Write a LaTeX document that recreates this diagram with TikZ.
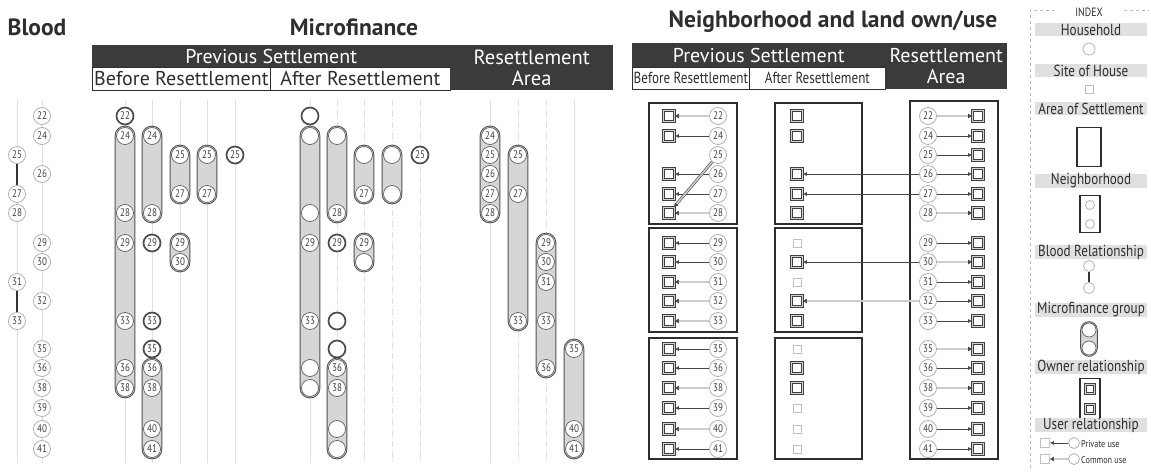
\documentclass[tikz,border=0pt]{standalone}
\usepackage{fontspec}
\setmainfont{PT Sans}
\newfontfamily\narrowsf[FakeStretch=0.82]{PT Sans}
\usetikzlibrary{positioning,fit,arrows.meta,backgrounds}

\definecolor{hdr}{HTML}{3B3B3B}
\definecolor{ink}{HTML}{2E2E2E}
\definecolor{pillgray}{HTML}{D6D6D6}
\definecolor{bandgray}{HTML}{E0E0E0}

% row of each household (pixels from the top)
\newcommand{\defrow}[2]{\expandafter\def\csname hrow#1\endcsname{#2}}
\newcommand{\hy}[1]{\csname hrow#1\endcsname}
\defrow{22}{116}\defrow{24}{136}\defrow{25}{155}\defrow{26}{174}
\defrow{27}{194}\defrow{28}{213}\defrow{29}{243}\defrow{30}{262}
\defrow{31}{282}\defrow{32}{301}\defrow{33}{321}\defrow{35}{349}
\defrow{36}{368}\defrow{38}{388}\defrow{39}{408}\defrow{40}{429}
\defrow{41}{449}

\begin{document}
\begin{tikzpicture}[x=1pt, y=-1pt,
        title/.style={font=\bfseries\fontsize{23.5}{24}\selectfont, text=ink},
        darkbar/.style={fill=hdr, text=white, inner sep=0pt, align=center,
            font=\fontsize{20}{21}\selectfont},
        resbar/.style={darkbar, font=\fontsize{20.5}{21.5}\selectfont},
        subbox/.style={draw=ink, fill=white, line width=0.8pt, inner sep=0pt,
            text=ink, font=\fontsize{20}{20}\selectfont},
        nsubbox/.style={subbox, font=\narrowsf\fontsize{16}{16}\selectfont},
        hh/.style={circle, draw=gray!75!black, fill=white, line width=0.7pt,
            minimum size=17pt, inner sep=0pt, text=gray!50!black,
            font=\narrowsf\fontsize{11}{11}\selectfont},
        hhs/.style={hh, line width=1.7pt, draw=gray!60!black},
        hl/.style={hh, draw=gray!60, line width=0.8pt},
        pill/.style={draw=gray!65!black, line width=0.9pt, fill=pillgray,
            rounded corners=9.5pt, inner sep=1pt},
        guide/.style={draw=gray!25, line width=0.7pt},
        guided/.style={guide, dash pattern=on 6pt off 2pt on 1pt off 2pt},
        kin/.style={draw=gray!40!black, line width=1.1pt},
        site/.style={rectangle, draw=gray!50!black, line width=0.7pt, double=gray!35,
            double distance=1.5pt, fill=white, minimum size=11pt, inner sep=0pt},
        sitesm/.style={rectangle, draw=gray!50, fill=white, line width=0.7pt,
            minimum size=8pt, inner sep=0pt},
        area/.style={draw=ink, line width=1.8pt},
        privuse/.style={-{Latex[length=4pt, width=4pt]}, draw=gray!55!black, line width=0.7pt},
        comuse/.style={-{Latex[length=4pt, width=5pt]}, draw=gray!55!black,
            double=gray!40, double distance=1.6pt, line width=0.6pt},
        band/.style={fill=bandgray, text=ink, minimum width=112pt, minimum height=13pt,
            inner sep=0pt, font=\narrowsf\fontsize{16}{16}\selectfont},
    ]
    \useasboundingbox (0,0) rectangle (1151,473);

    % Titles
    \node[title] (tblood) at (37,27) {Blood};
    \node[title] (tmicro) at (354,27) {Microfinance};
    \node[title] (tneigh) at (833,22) {Neighborhood and land own/use};

    % Microfinance headers
    \node[darkbar, anchor=north west, minimum width=358pt, minimum height=22pt] (mfprev) at (92,45) {Previous Settlement};
    \node[subbox, anchor=north west, minimum width=178pt, minimum height=23pt] (mfbef) at (92,67) {Before Resettlement};
    \node[subbox, anchor=north west, minimum width=180pt, minimum height=23pt] (mfaft) at (270,67) {After Resettlement};
    \node[resbar, anchor=north west, minimum width=163pt, minimum height=45pt] (mfres) at (450,45) {Resettlement\\Area};

    % Neighborhood headers
    \node[darkbar, anchor=north west, minimum width=253pt, minimum height=24pt] (nbprev) at (632,43) {Previous Settlement};
    \node[nsubbox, anchor=north west, minimum width=117pt, minimum height=22pt] (nbbef) at (632,67) {Before Resettlement};
    \node[nsubbox, anchor=north west, minimum width=136pt, minimum height=22pt] (nbaft) at (749,67) {After Resettlement};
    \node[darkbar, anchor=north west, minimum width=122pt, minimum height=46pt] (nbres) at (885,43) {Resettlement\\Area};

    % Blood
    \foreach \h in {25,27,28,31,33}
        \node[hl] (bl-\h) at (17,{\hy{\h}}) {\h};
    \foreach \h in {22,24,26,29,30,32,35,36,38,39,40,41}
        \node[hl] (bl-\h) at (42,{\hy{\h}}) {\h};
    \draw[kin] (bl-25) -- (bl-27);
    \draw[kin] (bl-31) -- (bl-33);

    % Microfinance, before resettlement
    \node[hhs] (mb1-22) at (125,{\hy{22}}) {22};
    \foreach \h in {24,28,29,33,36,38}
        \node[hh] (mb1-\h) at (125,{\hy{\h}}) {\h};
    \foreach \h in {24,28,36,38,40,41}
        \node[hh] (mb2-\h) at (152,{\hy{\h}}) {\h};
    \foreach \h in {29,33,35}
        \node[hhs] (mb2-\h) at (152,{\hy{\h}}) {\h};
    \foreach \h in {25,27,29,30}
        \node[hh] (mb3-\h) at (180,{\hy{\h}}) {\h};
    \foreach \h in {25,27}
        \node[hh] (mb4-\h) at (207,{\hy{\h}}) {\h};
    \node[hhs] (mb5-25) at (235,{\hy{25}}) {25};

    % Microfinance, after resettlement
    \node[hhs] (ma1-22) at (310,{\hy{22}}) {};
    \foreach \h/\t in {24/{},28/{},29/29,33/33,36/{},38/{}}
        \node[hh] (ma1-\h) at (310,{\hy{\h}}) {\t};
    \foreach \h/\t in {24/{},28/28,36/36,38/38,40/{},41/{}}
        \node[hh] (ma2-\h) at (337,{\hy{\h}}) {\t};
    \foreach \h/\t in {29/29,33/{},35/{}}
        \node[hhs] (ma2-\h) at (337,{\hy{\h}}) {\t};
    \foreach \h/\t in {25/{},27/27,29/29,30/{}}
        \node[hh] (ma3-\h) at (364,{\hy{\h}}) {\t};
    \foreach \h in {25,27}
        \node[hh] (ma4-\h) at (392,{\hy{\h}}) {};
    \node[hhs] (ma5-25) at (420,{\hy{25}}) {25};

    % Microfinance, resettlement area
    \foreach \h in {24,25,26,27,28}
        \node[hh] (mr1-\h) at (490,{\hy{\h}}) {\h};
    \foreach \h in {25,27,33}
        \node[hh] (mr2-\h) at (518,{\hy{\h}}) {\h};
    \foreach \h in {29,30,31,33,36}
        \node[hh] (mr3-\h) at (546,{\hy{\h}}) {\h};
    \foreach \h in {35,40,41}
        \node[hh] (mr4-\h) at (574,{\hy{\h}}) {\h};

    \begin{scope}[on background layer]
        \foreach \x in {17,42,125,152,180,207,235,310,490,574}
            \draw[guide] (\x,100) -- (\x,463);
        \foreach \x in {337,364,392,420,518,546}
            \draw[guided] (\x,100) -- (\x,463);
        \node[pill, fit=(mb1-24)(mb1-38)] (pb1) {};
        \node[pill, fit=(mb2-24)(mb2-28)] (pb2a) {};
        \node[pill, fit=(mb2-36)(mb2-41)] (pb2b) {};
        \node[pill, fit=(mb3-25)(mb3-27)] (pb3a) {};
        \node[pill, fit=(mb3-29)(mb3-30)] (pb3b) {};
        \node[pill, fit=(mb4-25)(mb4-27)] (pb4) {};
        \node[pill, fit=(ma1-24)(ma1-38)] (pa1) {};
        \node[pill, fit=(ma2-24)(ma2-28)] (pa2a) {};
        \node[pill, fit=(ma2-36)(ma2-41)] (pa2b) {};
        \node[pill, fit=(ma3-25)(ma3-27)] (pa3a) {};
        \node[pill, fit=(ma3-29)(ma3-30)] (pa3b) {};
        \node[pill, fit=(ma4-25)(ma4-27)] (pa4) {};
        \node[pill, fit=(mr1-24)(mr1-28)] (pr1) {};
        \node[pill, fit=(mr2-25)(mr2-33)] (pr2) {};
        \node[pill, fit=(mr3-29)(mr3-36)] (pr3) {};
        \node[pill, fit=(mr4-35)(mr4-41)] (pr4) {};
    \end{scope}

    % Neighborhood, before resettlement
    \draw[area] (649,103) rectangle (737,224);
    \draw[area] (649,228) rectangle (737,332);
    \draw[area] (649,338) rectangle (737,459);
    \foreach \h/\u in {22/comuse,24/privuse,26/privuse,27/privuse,28/comuse,
            29/privuse,30/privuse,31/comuse,32/comuse,33/comuse,
            35/privuse,36/privuse,38/comuse,39/privuse,40/comuse,41/privuse} {
        \node[site] (nbs-\h) at (669,{\hy{\h}}) {};
        \node[hl] (nbc-\h) at (718,{\hy{\h}}) {\h};
        \draw[\u] (nbc-\h) -- (nbs-\h);
    }
    \node[hl] (nbc-25) at (718,{\hy{25}}) {25};
    \draw[comuse] (nbc-25) -- (nbs-28);

    % Neighborhood, after resettlement
    \draw[area] (775,103) rectangle (862,224);
    \draw[area] (775,228) rectangle (862,332);
    \draw[area] (775,338) rectangle (862,459);
    \foreach \h in {22,24,26,27,28,30,32,33,36,38}
        \node[site] (nas-\h) at (797,{\hy{\h}}) {};
    \foreach \h in {29,31,35,39,40,41}
        \node[sitesm] (nas-\h) at (797,{\hy{\h}}) {};

    % Neighborhood, resettlement area
    \draw[area] (910,101) rectangle (998,459);
    \foreach \h/\u in {22/comuse,24/privuse,25/privuse,26/privuse,27/privuse,28/comuse,
            29/privuse,30/comuse,31/privuse,32/privuse,33/privuse,
            35/comuse,36/privuse,38/comuse,39/privuse,40/privuse,41/privuse} {
        \node[site] (nrs-\h) at (978,{\hy{\h}}) {};
        \node[hl] (nrc-\h) at (928,{\hy{\h}}) {\h};
        \draw[\u] (nrc-\h) -- (nrs-\h);
    }
    \draw[privuse] (nrc-26) -- (nas-26);
    \draw[privuse] (nrc-27) -- (nas-27);
    \draw[privuse] (nrc-30) -- (nas-30);
    \draw[comuse] (nrc-32) -- (nas-32);

    % Index
    \draw[gray!55, dashed, line width=0.6pt] (1030,468) -- (1030,10) -- (1149,10);
    \node[fill=white, inner xsep=18pt, inner ysep=1pt, text=ink,
        font=\narrowsf\fontsize{12}{12}\selectfont] (idx) at (1089,12) {INDEX};
    \node[band] (lhouse) at (1091,30) {Household};
    \node[hl, minimum size=12pt] (ihouse) at (1089,49) {};
    \node[band] (lsite) at (1091,71) {Site of House};
    \node[sitesm] (isite) at (1089,89) {};
    \node[band] (larea) at (1091,109) {Area of Settlement};
    \node[draw=ink, line width=1.8pt, minimum width=24pt, minimum height=39pt] (iarea) at (1089,147) {};
    \node[band] (lnbh) at (1091,181) {Neighborhood};
    \node[draw=ink, line width=1.8pt, minimum width=20pt, minimum height=37pt] (inbh) at (1090,214) {};
    \node[hl, minimum size=9pt] (inbhA) at (1090,205) {};
    \node[hl, minimum size=9pt] (inbhB) at (1090,224) {};
    \node[band] (lblood) at (1091,252) {Blood Relationship};
    \node[hl, minimum size=11pt] (iblA) at (1089,266) {};
    \node[hl, minimum size=11pt] (iblB) at (1089,288) {};
    \draw[kin] (iblA) -- (iblB);
    \node[band] (lmicro) at (1091,310) {Microfinance group};
    \node[hh, minimum size=14pt] (imfA) at (1089,330) {};
    \node[hh, minimum size=14pt] (imfB) at (1089,348) {};
    \begin{scope}[on background layer]
        \node[pill, rounded corners=8.5pt, fit=(imfA)(imfB)] (imf) {};
    \end{scope}
    \node[band] (lowner) at (1091,367) {Owner relationship};
    \node[draw=ink, line width=1.4pt, minimum width=20pt, minimum height=41pt] (iown) at (1090,399) {};
    \node[site, minimum size=9pt] (iownA) at (1090,389) {};
    \node[site, minimum size=9pt] (iownB) at (1090,409) {};
    \node[band] (luser) at (1091,425) {User relationship};
    \node[sitesm, minimum size=9pt] (ipS) at (1045,443) {};
    \node[hl, minimum size=11pt] (ipC) at (1074,443) {};
    \draw[privuse] (ipC) -- (ipS);
    \node[anchor=west, inner sep=0pt, text=ink, font=\narrowsf\fontsize{10}{10}\selectfont] (ipT) at (1081,444) {Private use};
    \node[sitesm, minimum size=9pt] (icS) at (1045,459) {};
    \node[hl, minimum size=11pt] (icC) at (1074,459) {};
    \draw[comuse] (icC) -- (icS);
    \node[anchor=west, inner sep=0pt, text=ink, font=\narrowsf\fontsize{10}{10}\selectfont] (icT) at (1081,460) {Common use};
\end{tikzpicture}
\end{document}
